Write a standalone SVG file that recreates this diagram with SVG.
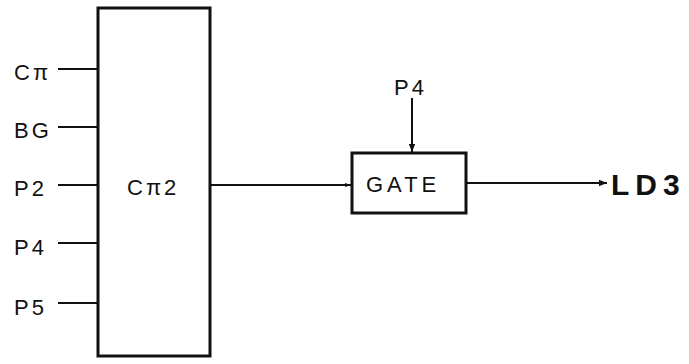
<svg xmlns="http://www.w3.org/2000/svg" width="689" height="364" viewBox="0 0 689 364">
<style>
.box{fill:#fff;stroke:#111;stroke-width:3}
.ln{stroke:#111;stroke-width:2;fill:none}
.t{font-family:"Liberation Sans",Arial,sans-serif;font-size:22px;letter-spacing:3px;fill:#111}
.g{font-size:22px;letter-spacing:4px}
.ld{font-size:30px;font-weight:bold;letter-spacing:6px}
</style>
<defs>
<marker id="ah" viewBox="0 0 10 10" refX="10" refY="5" markerWidth="10" markerHeight="6" markerUnits="userSpaceOnUse" orient="auto">
<path d="M0,1.5 L10,5 L0,8.5 Z" fill="#111"/>
</marker>
<marker id="ah2" viewBox="0 0 10 10" refX="10" refY="5" markerWidth="18" markerHeight="8" markerUnits="userSpaceOnUse" orient="auto">
<path d="M0,1 L10,5 L0,9 Z" fill="#111"/>
</marker>
</defs>
<rect width="689" height="364" fill="#fff"/>
<g id="connectors">
<line class="ln" x1="58" y1="69" x2="98" y2="69"/>
<line class="ln" x1="58" y1="127" x2="98" y2="127"/>
<line class="ln" x1="58" y1="185" x2="98" y2="185"/>
<line class="ln" x1="58" y1="243" x2="98" y2="243"/>
<line class="ln" x1="58" y1="303" x2="98" y2="303"/>
<line class="ln" x1="210" y1="185" x2="351" y2="185" marker-end="url(#ah)"/>
<line class="ln" x1="412" y1="98" x2="412" y2="152" marker-end="url(#ah2)"/>
<line class="ln" x1="466" y1="183" x2="607" y2="183" marker-end="url(#ah2)"/>
</g>
<g id="inputs">
<text class="t" x="14" y="80">Cπ</text>
<text class="t" x="14" y="138">BG</text>
<text class="t" x="14" y="196">P2</text>
<text class="t" x="14" y="255">P4</text>
<text class="t" x="14" y="315">P5</text>
</g>
<g id="c2">
<rect class="box" x="98" y="8" width="112" height="348"/>
<text class="t" x="127" y="195">Cπ2</text>
</g>
<g id="gate">
<rect class="box" x="352" y="153" width="114" height="60"/>
<text class="t g" x="366" y="192">GATE</text>
</g>
<g id="p4">
<text class="t" x="394" y="95">P4</text>
</g>
<g id="ld3">
<text class="t ld" x="611" y="195">LD3</text>
</g>
</svg>
